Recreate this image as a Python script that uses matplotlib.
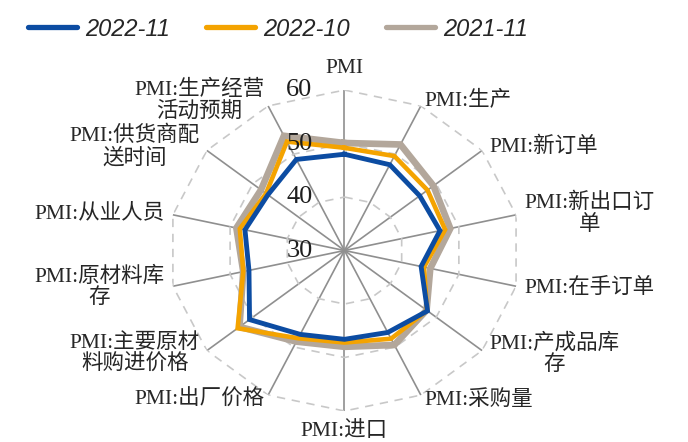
import numpy as np
import matplotlib
matplotlib.use("Agg")
import matplotlib.pyplot as plt


# ---- data ----
categories = ["PMI", "PMI:生产", "PMI:新订单", "PMI:新出口订\n单",
              "PMI:在手订单", "PMI:产成品库\n存", "PMI:采购量", "PMI:进口",
              "PMI:出厂价格", "PMI:主要原材\n料购进价格", "PMI:原材料库\n存",
              "PMI:从业人员", "PMI:供货商配\n送时间", "PMI:生产经营\n活动预期"]

pmi_2022_11 = [48.0, 47.8, 46.4, 46.7, 43.4, 48.1, 47.0, 46.6,
               47.4, 50.7, 46.7, 47.4, 46.7, 48.9]
pmi_2022_10 = [49.2, 49.6, 48.1, 47.6, 43.9, 48.0, 48.3, 47.2,
               48.2, 53.3, 47.7, 48.3, 47.1, 52.6]
pmi_2021_11 = [50.1, 52.0, 49.4, 48.5, 45.0, 47.9, 49.6, 48.0,
               48.9, 52.9, 47.7, 48.9, 48.2, 53.8]

series_names = ["2022-11", "2022-10", "2021-11"]
r_ticks = [30, 40, 50, 60]

plt.rcParams["font.family"] = ["Liberation Serif", "Noto Sans CJK SC"]


# ----------
def close_loop(values):
    return np.append(values, values[0])


# ----------
def main():
    n_cat = len(categories)
    theta = np.arange(n_cat) * 2 * np.pi / n_cat
    theta_closed = close_loop(theta)
    r_min, r_max = r_ticks[0], r_ticks[-1]

    fig = plt.figure(figsize=(6.88, 4.42), dpi=100)
    ax = fig.add_axes([0.2449, 0.0701, 0.5116, 0.7262], projection="polar")
    ax.set_aspect("auto")
    ax.set_theta_zero_location("N")
    ax.set_theta_direction(-1)
    ax.set_ylim(r_min, r_max)
    ax.set_xticks([])
    ax.set_yticks([])
    ax.grid(False)
    ax.spines["polar"].set_visible(False)

    # spokes and dashed rings
    for t in theta:
        ax.plot([t, t], [r_min, r_max], color="#8f8f8f", linewidth=1.2,
                zorder=1)
    for v in r_ticks[1:]:
        ax.plot(theta_closed, [v] * (n_cat + 1), color="#c8c8c8",
                linewidth=1.2, linestyle=(0, (5, 4)), zorder=1)

    # series
    l_gray, = ax.plot(theta_closed, close_loop(pmi_2021_11), color="#b3a79b",
                      linewidth=4.8, zorder=3, solid_joinstyle="miter")
    l_orange, = ax.plot(theta_closed, close_loop(pmi_2022_10),
                        color="#f4a300", linewidth=3.3, zorder=4,
                        solid_joinstyle="miter")
    l_blue, = ax.plot(theta_closed, close_loop(pmi_2022_11), color="#0c4ca2",
                      linewidth=3.5, zorder=5, solid_joinstyle="miter")

    # radial tick labels, left of the vertical axis
    for v in r_ticks:
        ax.annotate(str(v), xy=(0, v), xytext=(-23, 0),
                    textcoords="offset points", ha="right", va="center",
                    fontsize=19, color="#1e1e1e", zorder=6)

    # category labels
    for t, lab in zip(theta, categories):
        s, c = np.sin(t), np.cos(t)
        if abs(s) < 1e-6:
            ha = "center"
            va = "bottom" if c > 0 else "top"
            dx, dy = 0, (9 if c > 0 else -7)
        else:
            ha = "left" if s > 0 else "right"
            va = "center"
            dx, dy = 6.5 * s, 4 * c
        ax.annotate(lab, xy=(t, r_max), xytext=(dx, dy),
                    textcoords="offset points", ha=ha, va=va,
                    multialignment="center", fontsize=15.5, color="#262626",
                    linespacing=1.1)

    # legend
    leg = fig.legend([l_blue, l_orange, l_gray], series_names, loc="center",
                     bbox_to_anchor=(278 / 688, 1 - 29 / 442), ncol=3,
                     frameon=False, handlelength=2.1, handletextpad=0.35,
                     columnspacing=1.5,
                     prop=dict(family="Liberation Sans", style="italic",
                               size=17))
    for h in leg.get_lines():
        h.set_linewidth(3.8)
        h.set_solid_capstyle("round")
    for txt in leg.get_texts():
        txt.set_color("#262626")

    fig.savefig("out.png", dpi=100)


# ----------
if __name__ == "__main__":
    main()
